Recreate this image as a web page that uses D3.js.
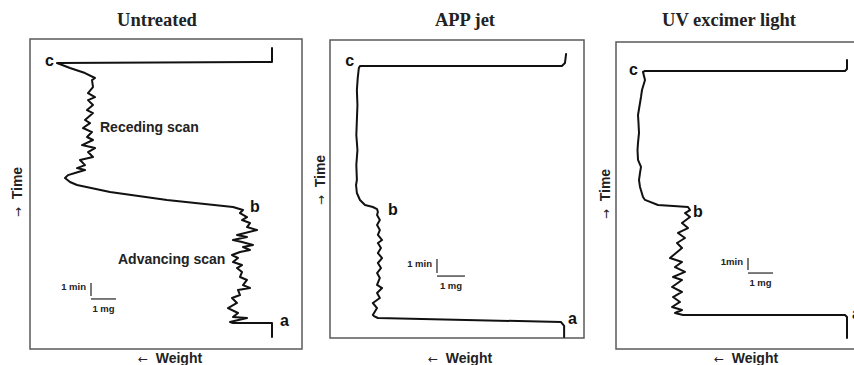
<!DOCTYPE html>
<html lang="en">
<head>
<meta charset="UTF-8">
<title>Weight vs time scans</title>
<style>
    html, body { margin: 0; padding: 0; background: #fff; }
    svg { display: block; }
    .frame { fill: none; stroke: #5a5a5a; stroke-width: 1.5px; }
    .trace { fill: none; stroke: #111; stroke-width: 2px; stroke-linejoin: round; stroke-linecap: round; }
    .title { font-family: "Liberation Serif", "Times New Roman", serif; font-weight: bold; font-size: 18.5px; text-anchor: middle; fill: #222; }
    .axis-label { font-family: "Liberation Sans", Arial, sans-serif; font-weight: bold; font-size: 14px; text-anchor: middle; fill: #222; }
    .axis-label .arrow { font-family: "DejaVu Sans", sans-serif; font-weight: normal; font-size: 12px; }
    .point-label { font-family: "Liberation Sans", Arial, sans-serif; font-weight: bold; font-size: 16px; fill: #111; dominant-baseline: middle; }
    .note { font-family: "Liberation Sans", Arial, sans-serif; font-weight: bold; font-size: 14px; fill: #222; dominant-baseline: middle; }
    .bar { stroke: #222; stroke-width: 1.2px; }
    .bar-text { font-family: "Liberation Sans", Arial, sans-serif; font-weight: bold; font-size: 9.5px; fill: #222; }
</style>
</head>
<body>
<svg width="854" height="365"></svg>

<script src="https://d3js.org/d3.v7.min.js"></script>
<script>
    // traces: [weight (mg, from right edge), time (min, from bottom)]
    const titles = ["Untreated", "APP jet", "UV excimer light"];

    const untreatedTrace = [
        [1.2,0.92],[1.2,2.0],[2.76,2.0],
        [2.88,2.08],[2.2,2.38],[2.76,2.46],[2.56,2.77],[2.96,3.15],[2.6,3.54],[2.8,3.92],[2.48,4.15],
        [2.56,4.54],[2.08,4.69],[2.36,4.92],[2.2,5.31],[2.48,5.54],[2.4,5.92],[2.6,6.23],[2.4,6.46],
        [2.76,6.69],[2.56,7.0],[2.8,7.23],[2.48,7.46],[2.08,7.62],[2.36,7.85],[1.96,8.0],[2.4,8.23],
        [2.76,8.38],[2.2,8.62],[2.6,8.77],[1.8,9.15],[2.2,9.38],[2.08,9.69],[2.4,9.92],[2.2,10.15],
        [2.48,10.46],[2.36,10.69],[2.76,10.92],
        [5.4,11.46],[7.68,12.08],[9.0,12.62],[9.28,12.85],
        [9.48,13.15],[9.36,13.38],[9.08,13.54],[8.68,13.77],[9.0,13.92],[8.68,14.15],[8.88,14.54],
        [8.36,14.77],[8.56,15.15],[8.28,15.46],[8.8,15.69],[8.36,16.08],[8.6,16.31],[8.4,16.69],
        [8.76,17.0],[8.48,17.38],[8.68,17.62],[8.36,18.15],[8.6,18.38],[8.36,18.77],[8.56,19.15],
        [8.28,19.38],[8.56,19.69],[8.36,20.15],[8.4,20.69],[8.28,20.85],
        [8.68,21.23],[9.28,21.62],[9.8,22.0],
        [1.2,22.08],[1.2,23.15]
    ];

    const appJetTrace = [
        [0.71,0.07],[0.71,0.86],[0.82,1.14],[7.36,1.43],[7.5,1.57],[7.54,1.64],[7.39,2.14],[7.54,2.5],
        [7.29,2.86],[7.39,3.21],[7.21,3.57],[7.39,3.79],[7.29,4.29],[7.39,4.64],[7.25,5.0],[7.36,5.36],
        [7.21,5.71],[7.36,6.07],[7.25,6.43],[7.36,6.79],[7.21,7.0],[7.36,7.36],[7.29,7.71],[7.39,8.07],
        [7.29,8.43],[7.39,8.79],[7.36,9.0],[7.39,9.21],[7.54,9.36],[7.82,9.5],[8.0,9.86],[8.11,10.36],
        [8.14,10.93],[8.11,11.29],[8.13,12.36],[8.09,13.43],[8.13,14.5],[8.11,15.57],[8.09,16.64],
        [8.11,17.71],[8.08,18.57],[8.04,19.29],[8.0,19.43],[0.79,19.43],[0.68,19.64],[0.64,20.29]
    ];

    const uvTrace = [
        [0.92,0.92],[0.92,2.67],[1.0,2.83],[7.48,2.83],[7.8,3.0],[7.52,3.25],[7.92,3.5],[7.6,3.92],
        [7.88,4.33],[7.52,4.75],[7.92,5.17],[7.52,5.75],[7.88,6.0],[7.4,6.42],[7.8,6.83],[7.52,7.25],
        [8.0,7.58],[7.76,8.0],[7.52,8.42],[7.72,8.83],[7.4,9.25],[7.68,9.67],[7.28,10.08],[7.52,10.5],
        [7.2,11.0],[7.4,11.33],[7.2,11.58],[7.28,11.83],[7.72,11.9],[8.48,12.0],[9.0,12.42],[9.08,12.67],
        [9.2,13.5],[9.24,14.08],[9.2,14.67],[9.16,15.17],[9.28,15.75],[9.3,16.58],[9.28,17.17],
        [9.24,18.0],[9.26,18.83],[9.28,19.5],[9.2,20.5],[9.16,21.0],[9.12,21.58],[9.0,22.42],
        [9.08,23.08],[9.0,23.17],[1.0,23.17],[0.92,23.33],[0.92,24.08]
    ];

    // extent of each frame in data units [weight mg, time min]
    const spans = [[10.88, 23.85], [9.07, 21.29], [10.16, 25.58]];

    // letter marks a / b / c: [text, weight, time, anchor]
    const untreatedMarks = [["a", 0.88, 2.08, "start"], ["b", 2.08, 10.85, "start"], ["c", 9.92, 22.08, "end"]];
    const appJetMarks = [["a", 0.57, 1.29, "start"], ["b", 7.0, 9.07, "start"], ["c", 8.21, 19.71, "end"]];
    const uvMarks = [["a", 0.72, 2.83, "start"], ["b", 7.08, 11.33, "start"], ["c", 9.28, 23.17, "end"]];

    const untreatedNotes = [["Receding scan", 8.08, 17.0], ["Advancing scan", 7.36, 6.85]];

    // scale bar origin [weight, time] and its labels
    const scaleBars = [[8.44, 4.08], [5.25, 4.64], [4.88, 6.58]];
    const minLabels = ["1 min", "1 min", "1min"];

    const layout = [
        { box: [30, 39, 302, 349], title: [157, 26], time: [17, 192], weight: [170, 363] },
        { box: [330, 40, 584, 338], title: [465, 26], time: [320, 180], weight: [460, 363] },
        { box: [616, 42, 870, 349], title: [729, 26], time: [605, 194], weight: [746, 363] }
    ];

    const traces = [untreatedTrace, appJetTrace, uvTrace];
    const marks = [untreatedMarks, appJetMarks, uvMarks];
    const notes = [untreatedNotes, [], []];

    const svg = d3.select("svg");

    layout.forEach((p, i) => {
        const [left, top, right, bottom] = p.box;
        const x = d3.scaleLinear().domain([0, spans[i][0]]).range([right, left]);
        const y = d3.scaleLinear().domain([0, spans[i][1]]).range([bottom, top]);
        const g = svg.append("g");

        g.append("rect").attr("class", "frame")
            .attr("x", left).attr("y", top)
            .attr("width", right - left).attr("height", bottom - top);

        g.append("text").attr("class", "title")
            .attr("x", p.title[0]).attr("y", p.title[1])
            .text(titles[i]);

        const tl = g.append("text").attr("class", "axis-label")
            .attr("transform", `translate(${p.time[0]},${p.time[1]}) rotate(-90)`)
            .attr("dy", "0.35em");
        tl.append("tspan").attr("class", "arrow").text("\u2192");
        tl.append("tspan").text("\u00a0\u00a0Time");

        const wl = g.append("text").attr("class", "axis-label")
            .attr("x", p.weight[0]).attr("y", p.weight[1]);
        wl.append("tspan").attr("class", "arrow").text("\u2190");
        wl.append("tspan").text("\u00a0\u00a0Weight");

        const line = d3.line().x(d => x(d[0])).y(d => y(d[1]));
        g.append("path").attr("class", "trace").attr("d", line(traces[i]));

        g.selectAll(".point-label").data(marks[i]).enter().append("text")
            .attr("class", "point-label")
            .attr("x", d => x(d[1])).attr("y", d => y(d[2]))
            .style("text-anchor", d => d[3])
            .text(d => d[0]);

        g.selectAll(".note").data(notes[i]).enter().append("text")
            .attr("class", "note")
            .attr("x", d => x(d[1])).attr("y", d => y(d[2]))
            .text(d => d[0]);

        // 1 min / 1 mg scale bar
        const [bw, bt] = scaleBars[i];
        const bx = x(bw), by = y(bt);
        g.append("line").attr("class", "bar")
            .attr("x1", bx).attr("x2", bx).attr("y1", by).attr("y2", y(bt + 1));
        g.append("line").attr("class", "bar")
            .attr("x1", bx).attr("x2", x(bw - 1)).attr("y1", by + 3).attr("y2", by + 3);
        g.append("text").attr("class", "bar-text")
            .attr("x", bx - 5).attr("y", y(bt + 0.7)).attr("dy", "0.35em")
            .style("text-anchor", "end")
            .text(minLabels[i]);
        g.append("text").attr("class", "bar-text")
            .attr("x", x(bw - 0.5)).attr("y", by + 13).attr("dy", "0.35em")
            .style("text-anchor", "middle")
            .text("1 mg");
    });
</script>
</body>
</html>
